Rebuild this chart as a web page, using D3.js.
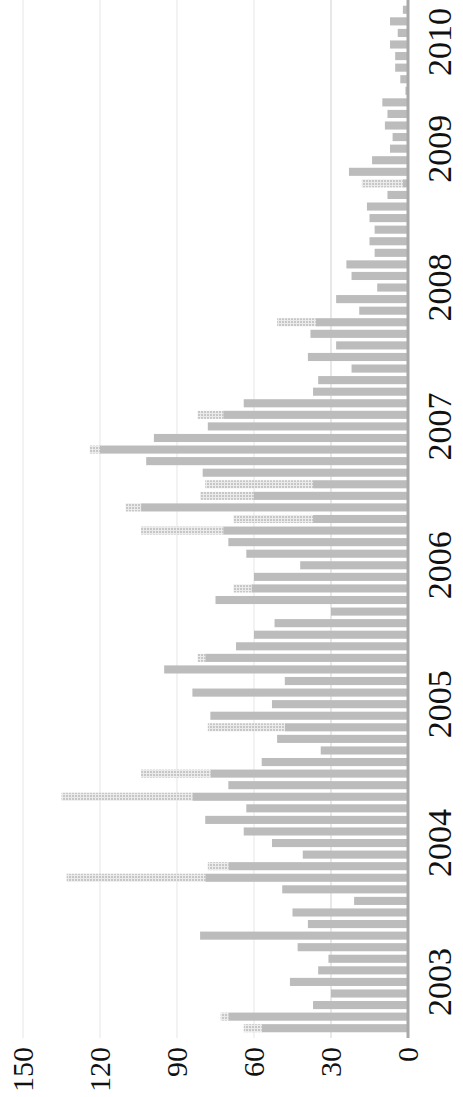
<!DOCTYPE html>
<meta charset="utf-8">
<style>
body { margin: 0; background: #fff; }
.bar { fill: #bcbcbc; }
.extra { fill: url(#speckle); }
.grid line { stroke: #ececec; stroke-width: 1.3; }
.baseline { stroke: #a9a9a9; stroke-width: 3; }
.lbl { font-family: "Liberation Serif", "Times New Roman", Times, "DejaVu Serif", serif; fill: #111; }
</style>
<div id="chart"></div>
<script src="https://d3js.org/d3.v7.min.js"></script>
<script>

// monthly bars, Sep 2002 .. Jan 2010 (bottom to top)
var months = d3.timeMonths(new Date(2002, 8, 1), new Date(2010, 1, 1));

// solid grey part of each bar
var greyValues = [57, 70, 37, 30, 46, 35, 31, 43, 81, 39, 45, 21, 49, 79, 70, 41,
  53, 64, 79, 63, 84, 70, 77, 57, 34, 51, 48, 77, 53, 84, 48, 95,
  79, 67, 60, 52, 30, 75, 61, 60, 42, 63, 70, 72, 37, 104, 60, 37,
  80, 102, 120, 99, 78, 72, 64, 37, 35, 22, 39, 28, 38, 36, 19, 28,
  12, 22, 24, 13, 15, 13, 15, 16, 8, 2, 23, 14, 7, 6, 9, 8,
  10, 1, 3, 5, 5, 7, 4, 7, 2];

// speckled (faded) part stacked on top of the grey
var extraValues = [7, 3, 0, 0, 0, 0, 0, 0, 0, 0, 0, 0, 0, 54, 8, 0,
  0, 0, 0, 0, 51, 0, 27, 0, 0, 0, 30, 0, 0, 0, 0, 0,
  3, 0, 0, 0, 0, 0, 7, 0, 0, 0, 0, 32, 31, 6, 21, 42,
  0, 0, 4, 0, 0, 10, 0, 0, 0, 0, 0, 0, 0, 15, 0, 0,
  0, 0, 0, 0, 0, 0, 0, 0, 0, 16, 0, 0, 0, 0, 0, 0,
  0, 0, 0, 0, 0, 0, 0, 0, 0];

var yearLabels = ["2003", "2004", "2005", "2006", "2007", "2008", "2009", "2010"];
var valueTicks = [0, 30, 60, 90, 120, 150];

var W = 463, H = 1097;
var svg = d3.select("#chart").append("svg").attr("width", W).attr("height", H);

var defs = svg.append("defs");
var pat = defs.append("pattern").attr("id", "speckle")
    .attr("patternUnits", "userSpaceOnUse").attr("width", 3).attr("height", 3);
pat.append("rect").attr("width", 3).attr("height", 3).attr("fill", "#ebebeb");
pat.append("circle").attr("cx", 1).attr("cy", 1).attr("r", 0.8).attr("fill", "#9a9a9a");

// value axis runs right (0) to left (150), months run bottom to top
var x = d3.scaleLinear().domain([0, 150]).range([408, 23]);
var y = d3.scaleBand()
    .domain(months.map(function(d, i) { return i; }))
    .range([1034, 4])
    .paddingInner(0.3)
    .paddingOuter(0.15);

svg.append("g").attr("class", "grid")
  .selectAll("line")
  .data(valueTicks.slice(1))
  .enter().append("line")
    .attr("x1", function(d) { return x(d); })
    .attr("x2", function(d) { return x(d); })
    .attr("y1", 0)
    .attr("y2", 1038)
    .style("stroke", function(d) { return d == 30 ? "#dcdcdc" : null; });

svg.append("g").selectAll("rect")
  .data(greyValues)
  .enter().append("rect")
    .attr("class", "bar")
    .attr("x", function(d) { return x(d); })
    .attr("y", function(d, i) { return y(i); })
    .attr("width", function(d) { return x(0) - x(d); })
    .attr("height", y.bandwidth());

svg.append("g").selectAll("rect")
  .data(extraValues)
  .enter().append("rect")
    .attr("class", "extra")
    .attr("x", function(d, i) { return x(greyValues[i] + d); })
    .attr("y", function(d, i) { return y(i); })
    .attr("width", function(d, i) { return x(greyValues[i]) - x(greyValues[i] + d); })
    .attr("height", y.bandwidth());

svg.append("line").attr("class", "baseline")
  .attr("x1", x(0)).attr("x2", x(0))
  .attr("y1", 0).attr("y2", 1038);

// value tick labels, rotated, tops aligned
svg.append("g").selectAll("text")
  .data(valueTicks)
  .enter().append("text")
    .attr("class", "lbl")
    .attr("transform", function(d) { return "translate(" + x(d) + ",1047) rotate(-90)"; })
    .attr("text-anchor", "end")
    .attr("dy", "0.34em")
    .style("font-size", "30px")
    .text(function(d) { return d; });

// year labels at each January bar
var yearText = svg.append("g").selectAll("text")
  .data(yearLabels)
  .enter().append("text")
    .attr("class", "lbl")
    .attr("text-anchor", "middle")
    .attr("dy", "0.34em")
    .style("font-size", "34px")
    .text(function(d) { return d; });

yearText.attr("transform", function(d) {
  var idx = months.findIndex(function(m) { return m.getFullYear() == +d && m.getMonth() == 0; });
  var len = this.getComputedTextLength();
  var cy = Math.max(y(idx) + y.bandwidth() / 2, len / 2 + 8);
  return "translate(439," + cy + ") rotate(-90)";
});
</script>
